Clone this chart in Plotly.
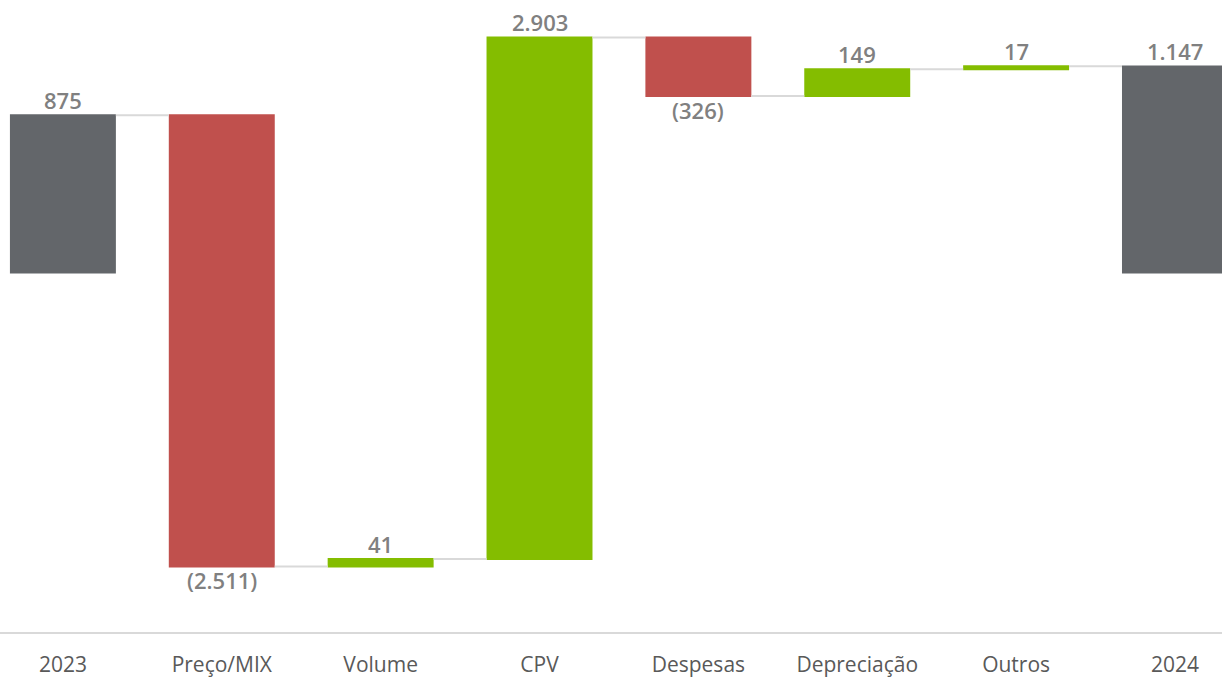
import plotly.graph_objects as go

categories = ["2023", "Preço/MIX", "Volume", "CPV", "Despesas", "Depreciação", "Outros", "2024"]
values = [875, -2511, 41, 2903, -326, 149, 17, 1147]
measures = ["absolute", "relative", "relative", "relative", "relative", "relative", "relative", "absolute"]
labels = ["875", "(2.511)", "41", "2.903", "(326)", "149", "17", "1.147"]

xs = list(range(len(categories)))

fig = go.Figure(go.Waterfall(
    x=xs,
    y=values,
    measure=measures,
    cliponaxis=False,
    increasing=dict(marker=dict(color="#84BD00")),
    decreasing=dict(marker=dict(color="#C0504D")),
    totals=dict(marker=dict(color="#63666A")),
    connector=dict(line=dict(color="#D9D9D9", width=2)),
    width=[0.667] * len(categories),
    hoverinfo="skip",
))

# value labels placed at bar ends (derived from the data)
running = 0
for i, (m, v, lab) in enumerate(zip(measures, values, labels)):
    if m == "absolute":
        start, end = 0, v
        running = v
    else:
        start, end = running, running + v
        running = end
    if end >= start:
        fig.add_annotation(x=i, y=end, text=lab, showarrow=False,
                           yanchor="bottom", yshift=-2,
                           font=dict(family="Open Sans", size=22, color="#808080", weight=600))
    else:
        fig.add_annotation(x=i, y=end, text=lab, showarrow=False,
                           yanchor="top", yshift=3,
                           font=dict(family="Open Sans", size=22, color="#808080", weight=600))

fig.update_layout(
    width=1222, height=677,
    margin=dict(l=0, r=0, t=0, b=45, autoexpand=False),
    paper_bgcolor="white", plot_bgcolor="white",
    showlegend=False,
    xaxis=dict(
        range=[-0.396, 7.296],
        automargin=False,
        tickmode="array",
        tickvals=xs,
        ticktext=categories,
        showgrid=False, zeroline=False,
        showline=True, linecolor="#D9D9D9", linewidth=2,
        ticks="outside", ticklen=13, tickcolor="rgba(0,0,0,0)",
        tickfont=dict(family="Open Sans", size=21, color="#595959"),
    ),
    yaxis=dict(
        range=[-2000.6, 1516.4],
        automargin=False,
        visible=False, showgrid=False, zeroline=False,
    ),
)

fig.write_html(
    "out.html",
    config={"displayModeBar": False},
    post_script="document.body.style.margin='0';document.body.style.overflow='hidden';",
)
